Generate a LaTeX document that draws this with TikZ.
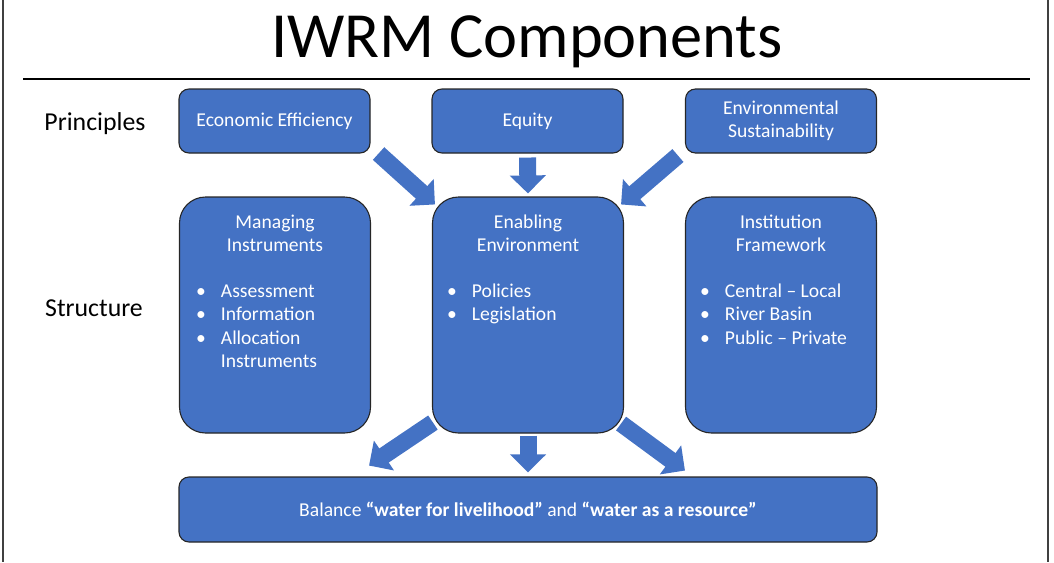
\documentclass[tikz,border=0pt]{standalone}
\usepackage{fontspec}
\setmainfont{Carlito}
\usetikzlibrary{arrows.meta,positioning}
\definecolor{boxblue}{HTML}{4472C4}

\begin{document}
\begin{tikzpicture}[x=1pt, y=-1pt,
  box/.style={draw=black!85, line width=1.1pt, fill=boxblue, text=white, align=center,
    inner sep=0pt, font=\fontsize{19.6}{23.5}\selectfont},
  small/.style={box, rounded corners=10pt, minimum width=191pt, minimum height=64pt},
  tall/.style={box, rounded corners=26pt, minimum width=191pt, minimum height=236pt},
  inbox/.style={text=white, inner sep=0pt, font=\fontsize{19.6}{23.5}\selectfont},
  blk/.style={draw=boxblue, line width=17pt, -{Triangle[width=35pt,length=18pt]}}]
\useasboundingbox (0,0) rectangle (1054,562);
% frame, title and rule
\draw[black!75, line width=1.2pt] (3,0) -- (3,562) (1048,0) -- (1048,562);
\node[anchor=base, inner sep=0pt, font=\fontsize{64.4}{70}\selectfont] (title) at (527,57) {IWRM Components};
\draw[line width=2pt] (23,79) -- (1030,79);
\node[font=\fontsize{25.8}{30}\selectfont] (princ) at (95,124) {Principles};
\node[font=\fontsize{25.8}{30}\selectfont] (struct) at (94,308) {Structure};
% principles row
\foreach \n/\x/\t in {econ/274.5/{Economic Efficiency}, equity/527.5/Equity, env/781/{Environmental\\Sustainability}}
  \node[small] (\n) at (\x,121) {\t};
% structure row
\foreach \n/\x in {mgmt/275, enable/528, inst/781}
  \node[tall] (\n) at (\x,315) {};
\node[inbox, align=center, below=18pt of mgmt.north] (mgmtT) {Managing\\Instruments};
\node[inbox, align=center, below=18pt of enable.north] (enableT) {Enabling\\Environment};
\node[inbox, align=center, below=18pt of inst.north] (instT) {Institution\\Framework};
\node[inbox, anchor=north west] (mgmtL) at ([shift={(17,84)}]mgmt.north west)
  {\begin{tabular}{@{}l@{\hspace{15pt}}l@{}}
   \textbullet & Assessment\\ \textbullet & Information\\ \textbullet & Allocation\\ & Instruments
   \end{tabular}};
\node[inbox, anchor=north west] (enableL) at ([shift={(15,84)}]enable.north west)
  {\begin{tabular}{@{}l@{\hspace{15pt}}l@{}}
   \textbullet & Policies\\ \textbullet & Legislation
   \end{tabular}};
\node[inbox, anchor=north west] (instL) at ([shift={(15,84)}]inst.north west)
  {\begin{tabular}{@{}l@{\hspace{15pt}}l@{}}
   \textbullet & Central – Local\\ \textbullet & River Basin\\ \textbullet & Public – Private
   \end{tabular}};
% outcome
\node[box, rounded corners=10pt, minimum width=698pt, minimum height=65pt]
  (balance) at (528,509.5) {Balance \textbf{“water for livelihood”} and \textbf{“water as a resource”}};
% block arrows
\draw[blk] ([shift={(8,0)}]econ.south east) -- ([shift={(3,8)}]enable.north west);
\draw[blk] ([shift={(0,4)}]equity.south) -- ([shift={(0,-3)}]enable.north);
\draw[blk] ([shift={(-7,2)}]env.south west) -- ([shift={(-3,8)}]enable.north east);
\draw[blk] ([shift={(1,-11)}]enable.south west) -- ([shift={(-2,32)}]mgmt.south east);
\draw[blk] ([shift={(0,2)}]enable.south) -- ([shift={(0,-4)}]balance.north);
\draw[blk] ([shift={(-3,-10)}]enable.south east) -- ([shift={(0,37)}]inst.south west);
\end{tikzpicture}
\end{document}
